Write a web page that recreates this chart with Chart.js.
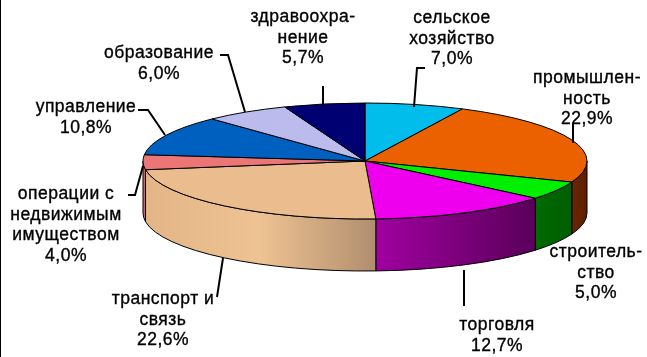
<!DOCTYPE html>
<html>
<head>
<meta charset="utf-8">
<script src="https://cdn.jsdelivr.net/npm/chart.js@4/dist/chart.umd.min.js"></script>
<style>
html,body{margin:0;padding:0;background:#fff;}
#wrap{position:relative;width:647px;height:357px;}
</style>
</head>
<body>
<div id="wrap"><canvas id="c" width="647" height="357"></canvas></div>
<script>
// ---- data ----
const categories = [
  'сельское\nхозяйство',
  'промышлен-\nность',
  'строитель-\nство',
  'торговля',
  'транспорт и\nсвязь',
  'операции с\nнедвижимым\nимуществом',
  'управление',
  'образование',
  'здравоохра-\nнение'
];
const shares = [7.0, 22.9, 5.0, 12.7, 22.6, 4.0, 10.8, 6.0, 5.7];

// ---- styles ----
const topColors = ['#00BDEB','#EB6100','#00EE00','#EE00EE','#EBBD8E','#EC7676','#0060C0','#BBBBEE','#000072'];
const sideColors = [
  ['#0090B0','#0090B0'],
  ['#6A2600','#5E2000'],
  ['#006A00','#005E00'],
  ['#A000A0','#5A005A'],
  ['#E4B687','#EEC292','#B08E6E'],
  ['#D86464','#D86464'],
  ['#004890','#004890'],
  ['#9090C0','#9090C0'],
  ['#000050','#000050']
];
// label layout: [centerX, firstBaselineY, leader polyline]
const labelLayout = [
  {x:452, y:23, leader:[[425,68],[417,68],[414,107]]},
  {x:587, y:83, leader:[[573,124],[573,143]]},
  {x:596, y:257, leader:null},
  {x:497, y:330, leader:[[464,270],[464,306]]},
  {x:163, y:304, leader:[[223,258],[217,297]]},
  {x:66, y:199, leader:[[128,195],[135,195],[143,166]]},
  {x:86, y:112, leader:[[138,110],[148,110],[165,135]]},
  {x:159, y:58, leader:[[220,55],[228,55],[245,112]]},
  {x:303, y:22, leader:[[323,86],[323,106]]}
];
const GEO = {cx:365, cy:161, rx:222, ry:58, depth:52};
const FONT = '17.5px "Liberation Sans", Arial, sans-serif';
const LINE_H = 20.5;

function fmt(v){ return v.toFixed(1).replace('.', ',') + '%'; }

const pie3d = {
  id:'pie3d',
  beforeDatasetsDraw(chart){
    const ctx = chart.ctx;
    const meta = chart.getDatasetMeta(0);
    const {cx, cy, rx, ry, depth} = GEO;
    const P = (a, dy) => [cx + rx*Math.cos(a), cy + (dy||0) + ry*Math.sin(a)];
    ctx.save();
    // left frame line
    ctx.fillStyle = '#000';
    ctx.fillRect(0, 0, 1, chart.height);
    ctx.lineWidth = 1;
    ctx.strokeStyle = '#000';
    ctx.lineJoin = 'round';
    // side walls (front half: angles 0..PI)
    meta.data.forEach((arc, i) => {
      const s = Math.max(arc.startAngle, 0);
      const e = Math.min(arc.endAngle, Math.PI);
      if (e <= s) return;
      const p1 = P(s), p2 = P(e);
      const x0 = Math.min(p1[0], p2[0]), x1 = Math.max(p1[0], p2[0]);
      const g = ctx.createLinearGradient(x0, 0, x1, 0);
      const cols = sideColors[i];
      cols.forEach((c, k) => g.addColorStop(k/(cols.length-1), c));
      ctx.beginPath();
      ctx.ellipse(cx, cy, rx, ry, 0, s, e, false);
      ctx.lineTo(P(e, depth)[0], P(e, depth)[1]);
      ctx.ellipse(cx, cy+depth, rx, ry, 0, e, s, true);
      ctx.closePath();
      ctx.fillStyle = g;
      ctx.fill();
      ctx.stroke();
    });
    // top faces
    meta.data.forEach((arc, i) => {
      ctx.beginPath();
      ctx.moveTo(cx, cy);
      ctx.ellipse(cx, cy, rx, ry, 0, arc.startAngle, arc.endAngle, false);
      ctx.closePath();
      ctx.fillStyle = topColors[i];
      ctx.fill();
      ctx.stroke();
    });
    // leader lines
    ctx.lineWidth = 2;
    ctx.lineJoin = 'miter';
    labelLayout.forEach(l => {
      if (!l.leader) return;
      ctx.beginPath();
      l.leader.forEach((pt, k) => k ? ctx.lineTo(pt[0], pt[1]) : ctx.moveTo(pt[0], pt[1]));
      ctx.stroke();
    });
    // labels
    ctx.fillStyle = '#000';
    ctx.strokeStyle = '#000';
    ctx.lineWidth = 0.35;
    ctx.font = FONT;
    if ('letterSpacing' in ctx) ctx.letterSpacing = '0.5px';
    ctx.textAlign = 'center';
    ctx.textBaseline = 'alphabetic';
    chart.data.labels.forEach((lab, i) => {
      const lines = lab.split('\n').concat([fmt(chart.data.datasets[0].data[i])]);
      const L = labelLayout[i];
      lines.forEach((t, k) => {
        ctx.fillText(t, L.x, L.y + k*LINE_H);
        ctx.strokeText(t, L.x, L.y + k*LINE_H);
      });
    });
    ctx.restore();
    return false;
  }
};

new Chart(document.getElementById('c'), {
  type: 'pie',
  data: {
    labels: categories,
    datasets: [{ data: shares, backgroundColor: topColors, borderColor:'#000', borderWidth:1 }]
  },
  options: {
    responsive: false,
    animation: false,
    events: [],
    plugins: { legend:{display:false}, tooltip:{enabled:false} }
  },
  plugins: [pie3d]
});
</script>
</body>
</html>
